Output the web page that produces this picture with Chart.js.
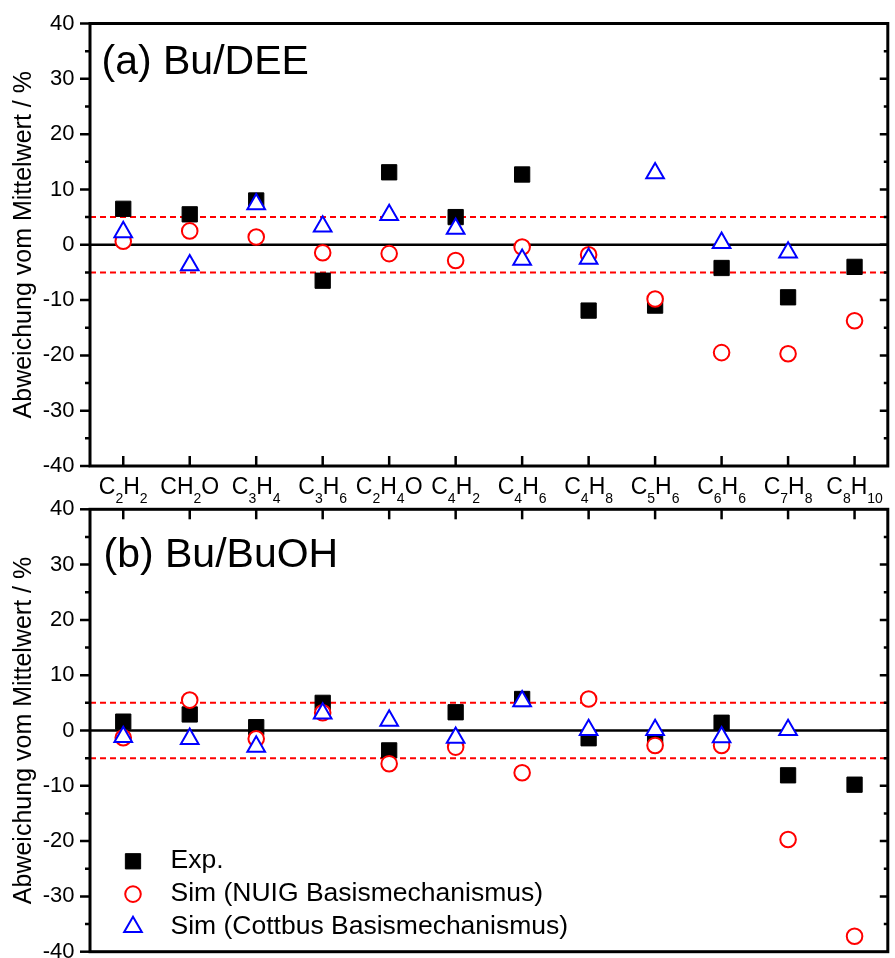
<!DOCTYPE html>
<html>
<head>
<meta charset="utf-8">
<title>Abweichung vom Mittelwert</title>
<script src="https://cdn.jsdelivr.net/npm/chart.js"></script>
<style>
  html, body { margin: 0; padding: 0; background: #fff; width: 895px; height: 958px; overflow: hidden; position: relative; }
  canvas { position: absolute; left: 0; }
  #chartA { top: -10px; }
  #chartB { top: 480px; }
</style>
</head>
<body>
<canvas id="chartA" width="900" height="516"></canvas>
<canvas id="chartB" width="900" height="502"></canvas>
<script>
// ── data ─────────────────────────────────────────────────────────────────────
const CATEGORIES = ['C2H2', 'CH2O', 'C3H4', 'C3H6', 'C2H4O', 'C4H2', 'C4H6', 'C4H8', 'C5H6', 'C6H6', 'C7H8', 'C8H10'];
const SERIES_NAMES = ['Exp.', 'Sim (NUIG Basismechanismus)', 'Sim (Cottbus Basismechanismus)'];
const PANEL_TITLES = ['(a) Bu/DEE', '(b) Bu/BuOH'];
const Y_TITLE = 'Abweichung vom Mittelwert / %';

// (a) Bu/DEE
const EXP_DEE     = [6.5, 5.5, 8.0, -6.5, 13.1, 5.0, 12.7, -11.9, -11.0, -4.2, -9.5, -4.0];
const NUIG_DEE    = [0.65, 2.5, 1.4, -1.45, -1.6, -2.85, -0.4, -1.8, -9.8, -19.5, -19.7, -13.75];
const COTTBUS_DEE = [2.3, -3.7, 7.35, 3.3, 5.4, 2.9, -2.7, -2.5, 12.95, 0.35, -1.4, null];

// (b) Bu/BuOH
const EXP_BUOH     = [1.6, 2.9, 0.6, 5.0, -3.6, 3.3, 5.7, -1.4, -1.4, 1.4, -8.1, -9.8];
const NUIG_BUOH    = [-1.3, 5.5, -1.5, 3.2, -6.0, -3.0, -7.65, 5.7, -2.7, -2.7, -19.7, -37.2];
const COTTBUS_BUOH = [-1.15, -1.5, -2.9, 3.1, 1.8, -1.3, 5.3, 0.1, 0.1, -1.2, 0.1, null];

const Y_MIN = -40, Y_MAX = 40, Y_STEP = 10, Y_MINOR = 5;
const BAND_LEVELS = [-5, 5];   // ±5 % band, dashed red
const ZERO_LEVEL = 0;

// ── styles ───────────────────────────────────────────────────────────────────
const FONT = '"Liberation Sans", Arial, Helvetica, sans-serif';
const AXIS_W = 3;

function makeDatasets(exp, nuig, cottbus) {
  return [
    { label: SERIES_NAMES[0], data: exp, order: 3,
      pointStyle: 'rect', pointRadius: 10.8, pointBorderWidth: 1,
      pointBackgroundColor: '#000', pointBorderColor: '#000' },
    { label: SERIES_NAMES[1], data: nuig, order: 2,
      pointStyle: 'circle', pointRadius: 7.8, pointBorderWidth: 2,
      pointBackgroundColor: '#fff', pointBorderColor: '#ff0000' },
    { label: SERIES_NAMES[2], data: cottbus, order: 1,
      pointStyle: 'triangle', pointRadius: 10.2, pointBorderWidth: 2,
      pointBackgroundColor: '#fff', pointBorderColor: '#0000ff' },
  ].map(ds => ({ ...ds, showLine: false, pointHoverRadius: ds.pointRadius }));
}

// C2H4O -> C, 2 (subscript), H, 4 (subscript), O
function drawFormula(ctx, text, cx, baseline) {
  const parts = text.match(/[A-Za-z]+|\d+/g);
  const fontOf = p => /\d/.test(p) ? `14px ${FONT}` : `23px ${FONT}`;
  const widths = parts.map(p => { ctx.font = fontOf(p); return ctx.measureText(p).width; });
  let x = cx - widths.reduce((a, b) => a + b, 0) / 2;
  parts.forEach((p, i) => {
    ctx.font = fontOf(p);
    ctx.fillText(p, x, /\d/.test(p) ? baseline + 8.4 : baseline);
    x += widths[i];
  });
}

// frame, inward/outward ticks, reference lines, panel label, legend
const panelPlugin = {
  id: 'panel',
  beforeDatasetsDraw(chart) {
    const { ctx, chartArea: { left, right }, scales: { y } } = chart;
    ctx.save();
    ctx.strokeStyle = '#ff0000';
    ctx.lineWidth = 2;
    ctx.setLineDash([6, 4]);
    BAND_LEVELS.forEach(v => {
      const py = y.getPixelForValue(v);
      ctx.beginPath(); ctx.moveTo(left, py); ctx.lineTo(right, py); ctx.stroke();
    });
    ctx.setLineDash([]);
    ctx.strokeStyle = '#000';
    ctx.lineWidth = 2.5;
    const pz = y.getPixelForValue(ZERO_LEVEL);
    ctx.beginPath(); ctx.moveTo(left, pz); ctx.lineTo(right, pz); ctx.stroke();
    ctx.restore();
  },
  afterDraw(chart, args, opts) {
    const { ctx, chartArea: { left, right, top, bottom }, scales: { x, y } } = chart;
    ctx.save();
    ctx.strokeStyle = '#000';
    ctx.lineWidth = AXIS_W;
    ctx.strokeRect(left, top, right - left, bottom - top);

    // y ticks: outward on the left, inward on the right
    ctx.lineWidth = 2.5;
    for (let v = Y_MIN; v <= Y_MAX; v += Y_MINOR) {
      const py = y.getPixelForValue(v);
      const major = v % Y_STEP === 0;
      ctx.beginPath();
      ctx.moveTo(left, py); ctx.lineTo(left - (major ? 10 : 5), py);
      if (v > Y_MIN && v < Y_MAX) {
        ctx.moveTo(right, py); ctx.lineTo(right - (major ? 8 : 4), py);
      }
      ctx.stroke();
    }

    // category ticks pointing into the plot
    CATEGORIES.forEach((c, i) => {
      const px = x.getPixelForValue(i);
      ctx.beginPath();
      if (opts.tickSide === 'bottom') { ctx.moveTo(px, bottom); ctx.lineTo(px, bottom - 10); }
      else { ctx.moveTo(px, top); ctx.lineTo(px, top + 10); }
      ctx.stroke();
    });

    ctx.fillStyle = '#000';
    ctx.textAlign = 'left';
    ctx.textBaseline = 'alphabetic';
    if (opts.xLabels) {
      CATEGORIES.forEach((c, i) => drawFormula(ctx, c, x.getPixelForValue(i), bottom + 28.3));
    }

    ctx.font = `41px ${FONT}`;
    ctx.fillText(opts.title, left + opts.titleDx, top + opts.titleDy);

    if (opts.legend) {
      chart.data.datasets.forEach((ds, i) => {
        const base = top + 359 + i * 32.8;
        ctx.fillStyle = ds.pointBackgroundColor;
        ctx.strokeStyle = ds.pointBorderColor;
        ctx.lineWidth = ds.pointBorderWidth;
        Chart.helpers.drawPoint(ctx, { pointStyle: ds.pointStyle, radius: ds.pointRadius,
          borderWidth: ds.pointBorderWidth, rotation: 0 }, left + 43, base - 7);
        ctx.fillStyle = '#000';
        ctx.font = `26.5px ${FONT}`;
        ctx.fillText(ds.label, left + 80.5, base);
      });
    }
    ctx.restore();
  }
};

function makeChart(canvasId, datasets, padding, panelOpts) {
  return new Chart(document.getElementById(canvasId), {
    type: 'line',
    data: { labels: CATEGORIES, datasets },
    options: {
      responsive: false,
      animation: false,
      devicePixelRatio: 1,
      events: [],
      layout: { padding },
      scales: {
        x: { type: 'category', offset: true, display: false },
        y: {
          min: Y_MIN, max: Y_MAX,
          afterFit: s => { s.width = 90; },
          grid: { display: false, drawTicks: false },
          border: { display: false },
          ticks: { stepSize: Y_STEP, color: '#000', padding: 15.5, font: { family: FONT, size: 22 } },
          title: { display: true, text: Y_TITLE, color: '#000', padding: { top: 9.6 },
                   font: { family: FONT, size: 25 } }
        }
      },
      plugins: {
        legend: { display: false },
        tooltip: { enabled: false },
        panel: panelOpts
      }
    },
    plugins: [panelPlugin]
  });
}

// canvases are taller than their plots so the axis label padding never moves the plot area
makeChart('chartA', makeDatasets(EXP_DEE, NUIG_DEE, COTTBUS_DEE),
  { top: 33.5, right: 2, bottom: 40, left: 0 },
  { title: PANEL_TITLES[0], titleDx: 11.5, titleDy: 50.5, tickSide: 'bottom', xLabels: true, legend: false });

makeChart('chartB', makeDatasets(EXP_BUOH, NUIG_BUOH, COTTBUS_BUOH),
  { top: 29.3, right: 2, bottom: 30.3, left: 0 },
  { title: PANEL_TITLES[1], titleDx: 13.5, titleDy: 57.4, tickSide: 'top', xLabels: false, legend: true });
</script>
</body>
</html>
